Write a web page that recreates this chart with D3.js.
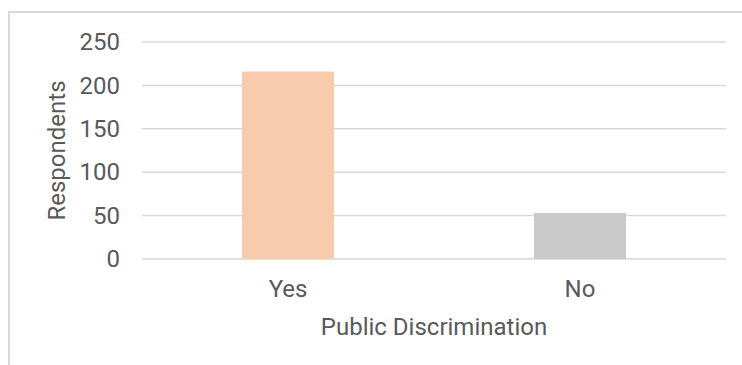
<!DOCTYPE html>
<html><head><meta charset="utf-8">
<script src="https://cdn.jsdelivr.net/npm/d3@7"></script>
<style>html,body{margin:0;padding:0;background:#fff;overflow:hidden}</style>
</head><body>
<svg id="chart" width="742" height="365"></svg>
<script>
const categories = ["Yes", "No"];
const values = [216, 53];
const barColors = ["#F8CBAD", "#C9C9C9"];
const yTicks = [0, 50, 100, 150, 200, 250];
const xTitle = "Public Discrimination";
const yTitle = "Respondents";

const svg = d3.select("#chart");
const font = "Roboto, sans-serif";
const textColor = "#595959";
const fs = 24;

// outer frame (cropped at right/bottom)
svg.append("rect").attr("x", 9).attr("y", 12).attr("width", 800).attr("height", 400)
  .attr("fill", "none").attr("stroke", "#D9D9D9").attr("stroke-width", 2);

const m = {left: 142, right: 726, top: 42, bottom: 259};
const x = d3.scaleBand().domain(categories).range([m.left, m.right])
  .paddingInner(0.685).paddingOuter(0.3425);
const y = d3.scaleLinear().domain([0, 250]).range([m.bottom, m.top]);

// gridlines
svg.append("g").selectAll("line").data(yTicks).join("line")
  .attr("x1", m.left).attr("x2", m.right)
  .attr("y1", d => y(d)).attr("y2", d => y(d))
  .attr("stroke", "#D9D9D9").attr("stroke-width", 1.5);

// bars
svg.append("g").selectAll("rect").data(categories).join("rect")
  .attr("x", d => x(d)).attr("width", x.bandwidth())
  .attr("y", (d, i) => y(values[i])).attr("height", (d, i) => y(0) - y(values[i]))
  .attr("fill", (d, i) => barColors[i]);

// y axis
const yAxis = svg.append("g").attr("transform", `translate(${m.left},0)`)
  .call(d3.axisLeft(y).tickValues(yTicks).tickSize(0).tickPadding(22));
yAxis.select(".domain").remove();
yAxis.selectAll("text").attr("font-family", font).attr("font-size", fs).attr("fill", textColor);

// x axis
const xAxis = svg.append("g").attr("transform", `translate(0,${m.bottom})`)
  .call(d3.axisBottom(x).tickSize(0).tickPadding(21));
xAxis.select(".domain").remove();
xAxis.selectAll("text").attr("font-family", font).attr("font-size", fs).attr("fill", textColor);

// titles
svg.append("text").attr("x", (m.left + m.right) / 2).attr("y", 335)
  .attr("text-anchor", "middle").attr("font-family", font).attr("font-size", fs)
  .attr("fill", textColor).text(xTitle);
svg.append("text").attr("transform", `translate(65,${(m.top + m.bottom) / 2}) rotate(-90)`)
  .attr("text-anchor", "middle").attr("font-family", font).attr("font-size", fs)
  .attr("fill", textColor).text(yTitle);
</script>
</body></html>
